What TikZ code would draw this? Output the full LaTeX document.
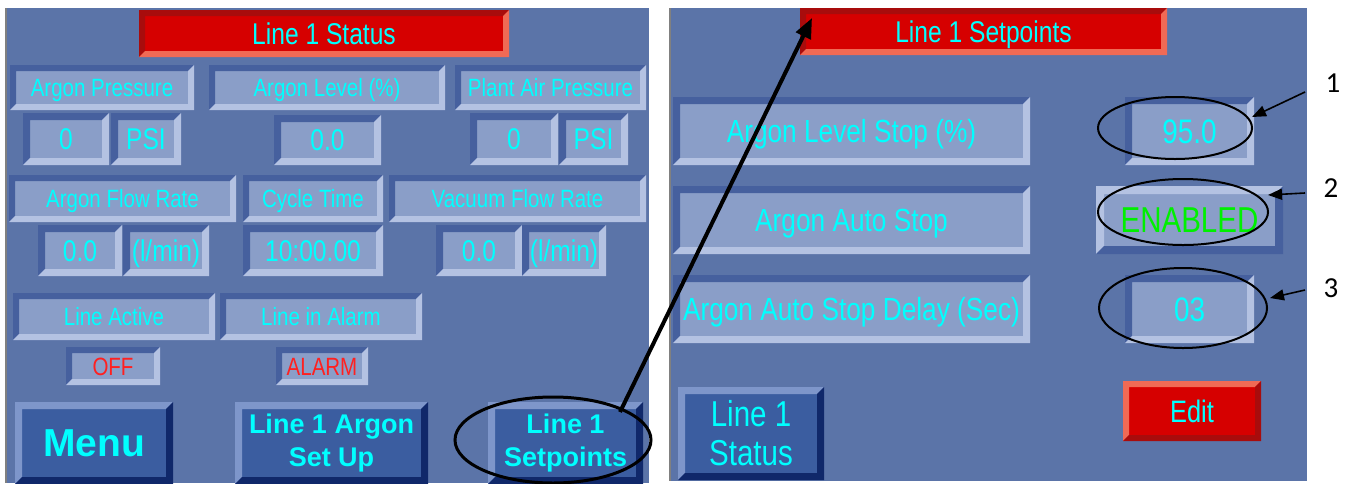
\documentclass[tikz,border=0pt]{standalone}
\usepackage{fontspec}
\usetikzlibrary{shapes.geometric,arrows.meta}
\newfontfamily\hmi[FakeStretch=0.82]{Liberation Sans}
\newfontfamily\hmibtn{Liberation Sans}
\newfontfamily\notefont{Carlito}
\definecolor{panel}{HTML}{5B74A8}
\definecolor{lblfill}{HTML}{8A9EC8}
\definecolor{bevdark}{HTML}{46609E}
\definecolor{bevlight}{HTML}{B4C2E2}
\definecolor{btnfill}{HTML}{3B5DA0}
\definecolor{btnlight}{HTML}{7E96CA}
\definecolor{btndark}{HTML}{10286A}
\definecolor{redfill}{HTML}{D60000}
\definecolor{reddark}{HTML}{A80C0C}
\definecolor{redlight}{HTML}{F06A55}
\definecolor{hcyan}{HTML}{00FFFF}
\definecolor{alarmred}{HTML}{FF2020}
\definecolor{okgreen}{HTML}{00F000}
\definecolor{edgegrey}{HTML}{808080}
\newcommand\hmibox[7]{%
  \pgfmathsetmacro\hbcx{(#3+#5)/2}%
  \pgfmathsetmacro\hbcy{(#4+#6)/2}%
  \pgfmathsetmacro\hbw{(#5-#3)*0.5}%
  \pgfmathsetmacro\hbh{(#6-#4)*0.5}%
  \node[#1, minimum width=\hbw pt, minimum height=\hbh pt] (#2) at (\hbcx,\hbcy) {#7};%
}
\tikzset{
  bevel/.style n args={3}{path picture={
    \coordinate (bvSW) at (path picture bounding box.south west);
    \coordinate (bvNE) at (path picture bounding box.north east);
    \fill[#1] (bvSW) |- (bvNE) -- ([shift={(-#3,-#3)}]bvNE) -| ([shift={(#3,#3)}]bvSW) -- cycle;
    \fill[#2] (bvSW) -| (bvNE) -- ([shift={(-#3,-#3)}]bvNE) |- ([shift={(#3,#3)}]bvSW) -- cycle;
  }},
  hbase/.style={inner sep=0pt, outer sep=0pt, align=center, text=hcyan},
  sunk/.style={hbase, fill=lblfill, bevel={bevdark}{bevlight}{#1}},
  raisedlight/.style={hbase, fill=lblfill, bevel={bevlight}{bevdark}{#1}},
  raised/.style={hbase, fill=btnfill, bevel={btnlight}{btndark}{#1}},
  redsunk/.style={hbase, fill=redfill, bevel={reddark}{redlight}{#1}},
  redraised/.style={hbase, fill=redfill, bevel={redlight}{reddark}{#1}},
  fs/.style={font=\hmi\fontsize{#1}{#1}\selectfont,
    /utils/exec={\pgfmathsetlengthmacro\fsth{0.72*#1}},
    text height=\fsth, text depth=0pt},
  lbl/.style={sunk=3pt, fs=12.5pt},
  val/.style={sunk=3.5pt, fs=15pt},
  rlbl/.style={sunk=3.5pt, fs=16pt},
  ell/.style={draw=black, ellipse, inner sep=0pt},
  note/.style={font=\notefont\fontsize{14.5pt}{14.5pt}\selectfont, text=black, inner sep=0pt},
  notearrow/.style={line width=0.8pt, -{Triangle[length=7pt,width=5.5pt]}},
  bigarrow/.style={line width=2pt, -{Triangle[length=10pt,width=8pt]}},
}
\begin{document}
\begin{tikzpicture}[x=0.5pt,y=-0.5pt]
\useasboundingbox (0,0) rectangle (1347,483);
\fill[white] (0,0) rectangle (1347,483);
% panels
\fill[panel] (6,8) rectangle (649,483);
\fill[panel] (670,8) rectangle (1307,481);
\draw[edgegrey, line width=0.6pt] (6,8) -- (6,483);
\draw[edgegrey, line width=0.6pt] (670,8) -- (670,481);
% ---------- left panel ----------
\hmibox{redsunk=3pt, fs=15pt}{title1}{139}{10}{509}{57}{Line 1 Status}
\hmibox{lbl}{l1}{10}{65}{194}{110}{Argon Pressure}
\hmibox{lbl}{l2}{209}{65}{445}{110}{Argon Level (\%)}
\hmibox{lbl}{l3}{455}{65}{646}{110}{Plant Air Pressure}
\hmibox{val}{v1}{23}{113}{109}{165}{0}
\hmibox{val}{v2}{111}{113}{181}{165}{PSI}
\hmibox{val}{v3}{274}{115}{381}{165}{0.0}
\hmibox{val}{v4}{470}{113}{558}{165}{0}
\hmibox{val}{v5}{559}{113}{628}{165}{PSI}
\hmibox{lbl}{l4}{9}{175}{236}{222}{Argon Flow Rate}
\hmibox{lbl}{l5}{243}{175}{383}{222}{Cycle Time}
\hmibox{lbl}{l6}{389}{175}{646}{222}{Vacuum Flow Rate}
\hmibox{val}{v6}{38}{225}{122}{276}{0.0}
\hmibox{val}{v7}{123}{225}{209}{276}{(l/min)}
\hmibox{val}{v8}{243}{225}{383}{276}{10:00.00}
\hmibox{val}{v9}{436}{225}{522}{276}{0.0}
\hmibox{val}{v10}{522}{225}{606}{276}{(l/min)}
\hmibox{lbl}{l7}{13}{293}{215}{340}{Line Active}
\hmibox{lbl}{l8}{220}{293}{422}{340}{Line in Alarm}
\hmibox{sunk=3pt, fs=12.5pt, text=alarmred}{v11}{66}{347}{160}{385}{OFF}
\hmibox{sunk=3pt, fs=12.5pt, text=alarmred}{v12}{276}{347}{368}{385}{ALARM}
\hmibox{raised=3.5pt, font=\hmibtn\bfseries\fontsize{19.5pt}{19.5pt}\selectfont}{b1}{15}{402}{173}{484}{Menu}
\hmibox{raised=3.5pt, font=\hmibtn\bfseries\fontsize{13.5pt}{16.5pt}\selectfont}{b2}{235}{402}{428}{484}{Line 1 Argon\\Set Up}
\hmibox{raised=3.5pt, font=\hmibtn\bfseries\fontsize{13.5pt}{16.5pt}\selectfont}{b3}{488}{402}{643}{484}{Line 1\\Setpoints}
\node[ell, line width=1.5pt, minimum width=98pt, minimum height=43pt] (e0) at (553,440) {};
% ---------- right panel ----------
\hmibox{redsunk=3pt, fs=15pt}{title2}{800}{8}{1167}{55}{Line 1 Setpoints}
\hmibox{rlbl}{r1}{673}{97}{1030}{165}{Argon Level Stop (\%)}
\hmibox{rlbl}{r2}{673}{186}{1030}{254}{Argon Auto Stop}
\hmibox{rlbl}{r3}{673}{275}{1030}{343}{Argon Auto Stop Delay (Sec)}
\hmibox{sunk=3.5pt, fs=17pt}{rv1}{1125}{97}{1254}{165}{95.0}
\hmibox{raisedlight=4pt, fs=18pt, text=okgreen}{rv2}{1096}{186}{1283}{254}{ENABLED}
\hmibox{sunk=3.5pt, fs=17pt}{rv3}{1125}{275}{1254}{343}{03}
\hmibox{raised=3.5pt, font=\hmi\fontsize{18pt}{19.5pt}\selectfont}{rb1}{678}{387}{824}{480}{Line 1\\Status}
\hmibox{redraised=3pt, fs=15.5pt}{rb2}{1123}{381}{1261}{441}{Edit}
\node[ell, line width=1pt, minimum width=77pt, minimum height=31pt] (e1) at (1175,128) {};
\node[ell, line width=1pt, minimum width=85pt, minimum height=33pt] (e2) at (1183,212) {};
\node[ell, line width=1pt, minimum width=84pt, minimum height=40pt] (e3) at (1183,308) {};
% annotation labels
\node[note] (n1) at (1333,83) {1};
\node[note] (n2) at (1331,188) {2};
\node[note] (n3) at (1331,288) {3};
\coordinate (a1s) at (1305,92);  \coordinate (a1e) at (1252,117);
\coordinate (a2s) at (1305,193); \coordinate (a2e) at (1268,195);
\coordinate (a3s) at (1305,290); \coordinate (a3e) at (1270,298);
\draw[notearrow] (a1s) -- (a1e);
\draw[notearrow] (a2s) -- (a2e);
\draw[notearrow] (a3s) -- (a3e);
% main arrow
\coordinate (m0) at (620,412);
\coordinate (m1) at (812,18);
\draw[bigarrow] (m0) -- (m1);
\end{tikzpicture}
\end{document}
